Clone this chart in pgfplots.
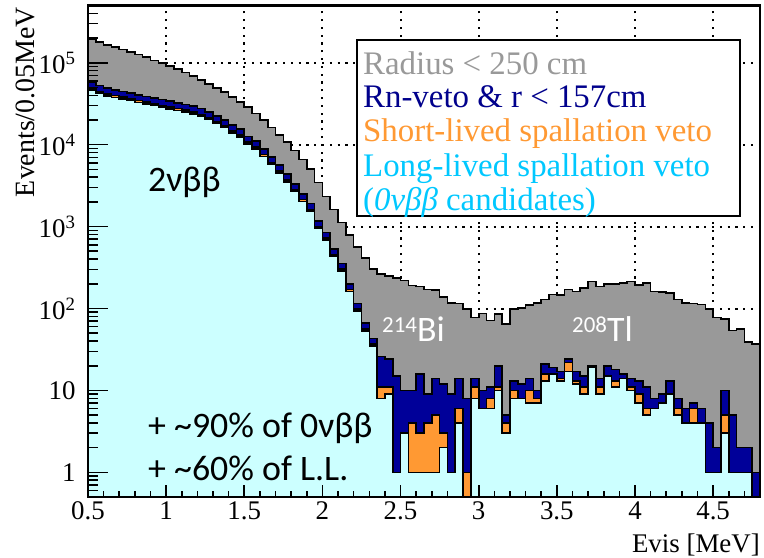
\documentclass[border=0pt]{standalone}
\usepackage{fontspec}
\setmainfont{Liberation Serif}
\newfontfamily\calfont{Carlito}
\usepackage{pgfplots}
\usepackage{pgfplotstable}
\pgfplotsset{compat=1.18}

\definecolor{radgray}{RGB}{153,153,153}
\definecolor{rnnavy}{RGB}{0,0,153}
\definecolor{slorange}{RGB}{255,153,51}
\definecolor{llcyan}{RGB}{204,255,255}
\definecolor{lltext}{RGB}{0,200,255}
\definecolor{rntext}{RGB}{0,0,140}

% Events per 0.05 MeV bin (left bin edge in MeV); 0.3 stands for an empty bin
\pgfplotstableread{
E    gray    navy   orange  cyan
0.50 0.3     0.3    0.3     0.3
0.50 195000  57500  48900   46400
0.55 178000  52500  44600   42400
0.60 166000  49000  41700   39600
0.65 155000  46800  39800   37800
0.70 145000  44700  38000   36100
0.75 135000  42700  36300   34500
0.80 126000  40700  34600   32900
0.85 117500  38900  33100   31400
0.90 107000  37200  31600   30000
0.95 100000  35500  30200   28700
1.00 91200   33900  28800   27400
1.05 83200   32400  27500   26200
1.10 75900   30900  26300   25000
1.15 69200   29500  25100   23800
1.20 61700   27500  23400   22200
1.25 55000   25100  21300   20300
1.30 49000   22400  19000   18100
1.35 43700   20000  17000   16200
1.40 38000   17400  14800   14000
1.45 33100   15500  13200   12500
1.50 28800   12600  10700   10200
1.55 24000   11000  9350    8880
1.60 20000   8910   7570    7200
1.65 16200   7080   6020    5720
1.70 13200   5620   4780    4540
1.75 10700   4370   3710    3530
1.80 8510    3310   2810    2670
1.85 6610    2510   2130    2030
1.90 5010    1910   1620    1540
1.95 3470    1170   995     945
2.00 2340    851    723     687
2.05 1620    537    456     434
2.10 1120    355    302     287
2.15 794     200    170     162
2.20 562     115    98      93
2.25 417     66     56      53
2.30 302     43     37      35
2.35 263     26     11      8
2.40 251     24     11      9
2.45 234     15     1       1
2.50 219     10     3       3
2.55 191     10     4       1
2.60 186     16     3       1
2.65 170     9      4       1
2.70 168     14     5       1
2.75 138     12     3       2
2.80 117     9      1       1
2.85 115     14     6       4
2.90 98      8      1       0.3
2.95 78      14     11      8
3.00 87      10     6       6
3.05 71      11     8       6
3.10 86      20     11      10
3.15 65      5      4       3
3.20 98      13     10      8
3.25 102     12     8       8
3.30 110     14     10      7
3.35 117     10     8       7
3.40 129     21     16      13
3.45 148     19     16      16
3.50 147     17     14      13
3.55 170     24     22      17
3.60 162     17     13      12
3.65 178     15     11      9
3.70 214     20     19      19
3.75 186     14     11      9
3.80 200     20     15      15
3.85 199     18     13      11
3.90 204     16     14      14
3.95 214     14     11      10
4.00 195     13     9       7
4.05 204     11     6       5
4.10 162     8      6       6
4.15 158     9      7       7
4.20 155     13     9       9
4.25 129     8      6       5
4.30 117     6      4       4
4.35 115     7      6       4
4.40 112     6      4       4
4.45 98      4      1       1
4.50 78      2      1       1
4.55 74      10     5       3
4.60 54      5      1       1
4.65 56      2      1       1
4.70 39      2      1       1
4.75 37      1      0.3     0.3
4.80 37      1      0.3     0.3
4.80 0.3     0.3    0.3     0.3
}\histdata

\pgfplotsset{
  hist/.style={const plot, draw=black, line width=1.6bp, line join=miter},
}

\begin{document}
\begin{tikzpicture}
\path[use as bounding box] (-88bp,-61bp) rectangle (676bp,497bp);

% dotted grid, kept underneath the histograms
\begin{axis}[ymode=log,
  scale only axis, width=672bp, height=491.5bp,
  at={(0bp,0bp)}, anchor=south west,
  xmin=0.5, xmax=4.8, ymin=0.5, ymax=5e5,
  xtick={0.5,1,1.5,2,2.5,3,3.5,4,4.5},
  ytick={1,10,100,1000,10000,100000},
  grid=major,
  major grid style={black, line width=2bp, dash pattern=on 2.2bp off 5.6bp},
  tick pos=left, major tick length=0bp, minor tick length=0bp,
  xticklabels={}, yticklabels={}]
\addplot[draw=none] coordinates {(1,1)};
\end{axis}

% the four histograms
\begin{axis}[ymode=log,
  scale only axis, width=672bp, height=491.5bp,
  at={(0bp,0bp)}, anchor=south west,
  xmin=0.5, xmax=4.8, ymin=0.5, ymax=5e5,
  xtick=\empty, ytick=\empty]
\addplot[hist, fill=radgray] table[x=E, y=gray] {\histdata};
\addplot[hist, fill=rnnavy] table[x=E, y=navy] {\histdata};
\addplot[hist, fill=slorange] table[x=E, y=orange] {\histdata};
\addplot[hist, fill=llcyan] table[x=E, y=cyan] {\histdata};
\end{axis}

% frame, ticks, tick labels, titles, annotations and legend
\begin{axis}[ymode=log,
  scale only axis, width=672bp, height=491.5bp,
  at={(0bp,0bp)}, anchor=south west,
  xmin=0.5, xmax=4.8, ymin=0.5, ymax=5e5,
  clip=false,
  xtick={0.5,1,1.5,2,2.5,3,3.5,4,4.5},
  xticklabels={0.5,1,1.5,2,2.5,3,3.5,4,4.5},
  ytick={1,10,100,1000,10000,100000},
  yticklabels={1,10,10\textsuperscript{2},10\textsuperscript{3},10\textsuperscript{4},10\textsuperscript{5}},
  tick pos=left,
  major tick length=0bp, minor tick length=0bp,
  axis line style={draw=black, line width=2.2bp},
  yticklabel style={font=\fontsize{27}{27}\selectfont, xshift=-9bp},
  xticklabel style={font=\fontsize{27}{27}\selectfont, yshift=-1bp},
]
\addplot[draw=none] coordinates {(1,1)};

% tick marks: long ones on the log axis, shorter ones on the energy axis
\pgfplotsinvokeforeach{1,10,100,1000,10000,100000}{
  \draw[line width=1.6bp, black] (axis cs:0.5,#1) -- (axis cs:0.6286,#1);}
\pgfplotsinvokeforeach{0.6,0.7,0.8,0.9,2,3,4,5,6,7,8,9,20,30,40,50,60,70,80,90,
    200,300,400,500,600,700,800,900,2000,3000,4000,5000,6000,7000,8000,9000,
    20000,30000,40000,50000,60000,70000,80000,90000,200000,300000,400000}{
  \draw[line width=1.6bp, black] (axis cs:0.5,#1) -- (axis cs:0.5643,#1);}
\pgfplotsinvokeforeach{1,1.5,2,2.5,3,3.5,4,4.5}{
  \draw[line width=1.6bp, black] (axis cs:#1,0.5) -- (axis cs:#1,0.7);}
\pgfplotsinvokeforeach{0.6,0.7,0.8,0.9,1.1,1.2,1.3,1.4,1.6,1.7,1.8,1.9,
    2.1,2.2,2.3,2.4,2.6,2.7,2.8,2.9,3.1,3.2,3.3,3.4,3.6,3.7,3.8,3.9,
    4.1,4.2,4.3,4.4,4.6,4.7}{
  \draw[line width=1.6bp, black] (axis cs:#1,0.5) -- (axis cs:#1,0.592);}

% axis titles
\node[rotate=90, anchor=east, inner sep=0pt, font=\fontsize{28}{28}\selectfont]
  at ([xshift=-63bp, yshift=-1.5bp]rel axis cs:0,1) {Events/0.05MeV};
\node[anchor=base east, inner sep=0pt, font=\fontsize{27}{27}\selectfont]
  at ([yshift=-55bp]rel axis cs:1,0) {Evis [MeV]};

% annotations
\node[anchor=base west, inner sep=0pt, font=\calfont\fontsize{36}{36}\selectfont]
  at (axis cs:0.884,2667) {2νββ};
\node[anchor=base west, inner sep=0pt, font=\calfont\fontsize{36}{36}\selectfont]
  at (axis cs:0.884,2.66) {+ \textasciitilde 90\% of 0νββ};
\node[anchor=base west, inner sep=0pt, font=\calfont\fontsize{36}{36}\selectfont]
  at (axis cs:0.884,0.80) {+ \textasciitilde 60\% of L.L.};
\node[anchor=base west, inner sep=0pt, text=white, font=\calfont\fontsize{36}{36}\selectfont]
  at (axis cs:2.381,40) {\raisebox{8.5bp}{\fontsize{23}{23}\selectfont 214}Bi};
\node[anchor=base west, inner sep=0pt, text=white, font=\calfont\fontsize{36}{36}\selectfont]
  at (axis cs:3.597,40) {\raisebox{8.5bp}{\fontsize{23}{23}\selectfont 208}Tl};

% legend box
\draw[black, line width=1.2bp, fill=white]
  (rel axis cs:0.4003,0.5717) rectangle (rel axis cs:0.9702,0.9298);
\begin{scope}[every node/.style={anchor=base west, inner sep=0pt, font=\fontsize{33}{33}\selectfont}]
\node[text=radgray] at (rel axis cs:0.4092,0.8606) {Radius < 250 cm};
\node[text=rntext]  at (rel axis cs:0.4092,0.7915) {Rn-veto \& r < 157cm};
\node[text=slorange] at (rel axis cs:0.4092,0.7223) {Short-lived spallation veto};
\node[text=lltext]  at (rel axis cs:0.4092,0.6511) {Long-lived spallation veto};
\node[text=lltext]  at (rel axis cs:0.4092,0.5839) {(\textit{0νββ} candidates)};
\end{scope}
\end{axis}
\end{tikzpicture}
\end{document}
